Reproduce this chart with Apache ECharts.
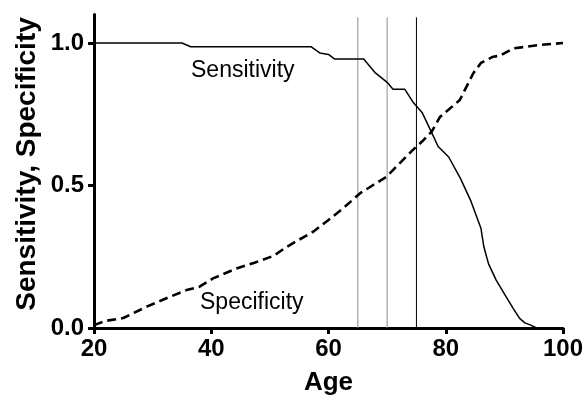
<!DOCTYPE html>
<html>
<head>
<meta charset="utf-8">
<script src="https://cdn.jsdelivr.net/npm/echarts@6/dist/echarts.min.js"></script>
<style>html,body{margin:0;padding:0;background:#fff}#c{width:588px;height:402px}</style>
</head>
<body>
<div id="c"></div>
<script>
var xTicks = [20, 40, 60, 80, 100];
var yTicks = [0, 0.5, 1.0];
var sensitivity = [[20,1],[35,1],[36.5,0.987],[57,0.987],[58.5,0.965],[60,0.96],[61,0.944],[66,0.944],[68,0.895],[70,0.862],[71,0.838],[73,0.838],[74.5,0.79],[76,0.755],[77.5,0.69],[78.7,0.637],[80.5,0.6],[82.5,0.525],[84.3,0.445],[86,0.35],[86.5,0.285],[87.3,0.225],[88.6,0.168],[90,0.12],[91.5,0.069],[92.6,0.034],[93.5,0.018],[94.5,0.01],[95.5,0]];
var specificity = [[20,0.01],[22,0.025],[25,0.035],[29,0.075],[33,0.11],[35.8,0.133],[38,0.145],[40.3,0.174],[44.3,0.209],[47.5,0.23],[50.6,0.253],[52.9,0.285],[55,0.31],[57.4,0.338],[60,0.379],[62.5,0.42],[65.4,0.473],[67.5,0.5],[69.9,0.531],[72,0.575],[74.4,0.625],[76,0.655],[77.6,0.689],[79,0.74],[82.4,0.8],[84.7,0.894],[86,0.93],[88.1,0.952],[89.2,0.955],[91.5,0.981],[96,0.993],[100,1.0]];
var cutoffs = [65, 70, 75];
var cutoffColors = ['#8c8c8c', '#8c8c8c', '#000000'];
var cutoffTop = 1.09;

var FONT = '"Liberation Sans", Arial, sans-serif';
var chart = echarts.init(document.getElementById('c'));
var series = [
  {type:'line', data:sensitivity, showSymbol:false, lineStyle:{color:'#000', width:1.5}, z:3},
  {type:'line', data:specificity, showSymbol:false, lineStyle:{color:'#000', width:2.6, type:[9,5]}, z:3}
];
cutoffs.forEach(function(c, i){
  series.push({type:'line', data:[[c,0],[c,cutoffTop]], showSymbol:false, lineStyle:{color:cutoffColors[i], width:1}, z:2});
});
chart.setOption({
  animation:false,
  grid:{left:94, right:25, top:14.5, bottom:74},
  xAxis:{type:'value', min:20, max:100, interval:20,
    name:'Age', nameLocation:'middle', nameGap:42,
    nameTextStyle:{fontFamily:FONT, fontWeight:'bold', fontSize:26, color:'#000'},
    axisLine:{lineStyle:{color:'#000', width:3}},
    axisTick:{length:6, lineStyle:{color:'#000', width:3}, customValues:xTicks},
    axisLabel:{margin:9, fontFamily:FONT, fontWeight:'bold', fontSize:24, color:'#000', customValues:xTicks},
    splitLine:{show:false}},
  yAxis:{type:'value', min:0, max:1.1,
    axisLine:{show:true, lineStyle:{color:'#000', width:3}},
    axisTick:{show:true, length:6, lineStyle:{color:'#000', width:3}, customValues:yTicks},
    axisLabel:{margin:10, fontFamily:FONT, fontWeight:'bold', fontSize:24, color:'#000', customValues:yTicks,
      formatter:function(v){return v.toFixed(1);}},
    splitLine:{show:false}},
  graphic:[
    {type:'text', x:27, y:164, rotation:Math.PI/2,
      style:{text:'Sensitivity, Specificity', font:'bold 28px ' + FONT, fill:'#000', align:'center', verticalAlign:'middle'}},
    {type:'text', left:191, top:59, style:{text:'Sensitivity', font:'23px ' + FONT, fill:'#000'}},
    {type:'text', left:200, top:291, style:{text:'Specificity', font:'23px ' + FONT, fill:'#000'}}
  ],
  series:series
});
</script>
</body>
</html>
